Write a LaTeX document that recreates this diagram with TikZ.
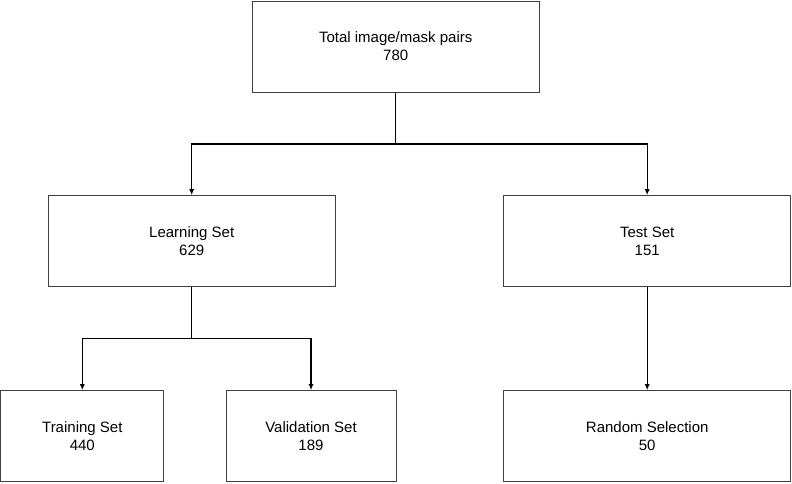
\documentclass[tikz,border=0pt]{standalone}
\usepackage{fontspec}
\setmainfont{Liberation Sans}
\usetikzlibrary{arrows.meta}
\begin{document}
\begin{tikzpicture}[x=1pt,y=-1pt,
  box/.style={draw=black!75,line width=1pt,fill=white,align=center,inner sep=0pt,
    font=\fontsize{15}{18}\selectfont},
  wide/.style={box,minimum width=287pt,minimum height=91pt},
  conn/.style={line width=1.3pt,black},
  arr/.style={conn,-{Latex[length=6pt,width=5pt]}}]
\useasboundingbox (0,0) rectangle (792,483);
\node[wide] (top) at (395.7,46.5) {Total image/mask pairs\\780};
\node[wide] (learn) at (191.7,241.2) {Learning Set\\629};
\node[wide] (test) at (647.2,241.2) {Test Set\\151};
\node[box,minimum width=163pt,minimum height=91pt] (train) at (82.3,436.2) {Training Set\\440};
\node[box,minimum width=170pt,minimum height=91pt] (valid) at (311,436.2) {Validation Set\\189};
\node[wide] (rand) at (647.2,436.2) {Random Selection\\50};
\coordinate (b1) at (395.7,144);
\coordinate (b2) at (191.7,338.7);
\draw[conn] (top.south) -- (b1);
\draw[arr] (b1) -| (learn.north);
\draw[arr] (b1) -| (test.north);
\draw[conn] (learn.south) -- (b2);
\draw[arr] (b2) -| (train.north);
\draw[arr] (b2) -| (valid.north);
\draw[arr] (test.south) -- (rand.north);
\end{tikzpicture}
\end{document}
